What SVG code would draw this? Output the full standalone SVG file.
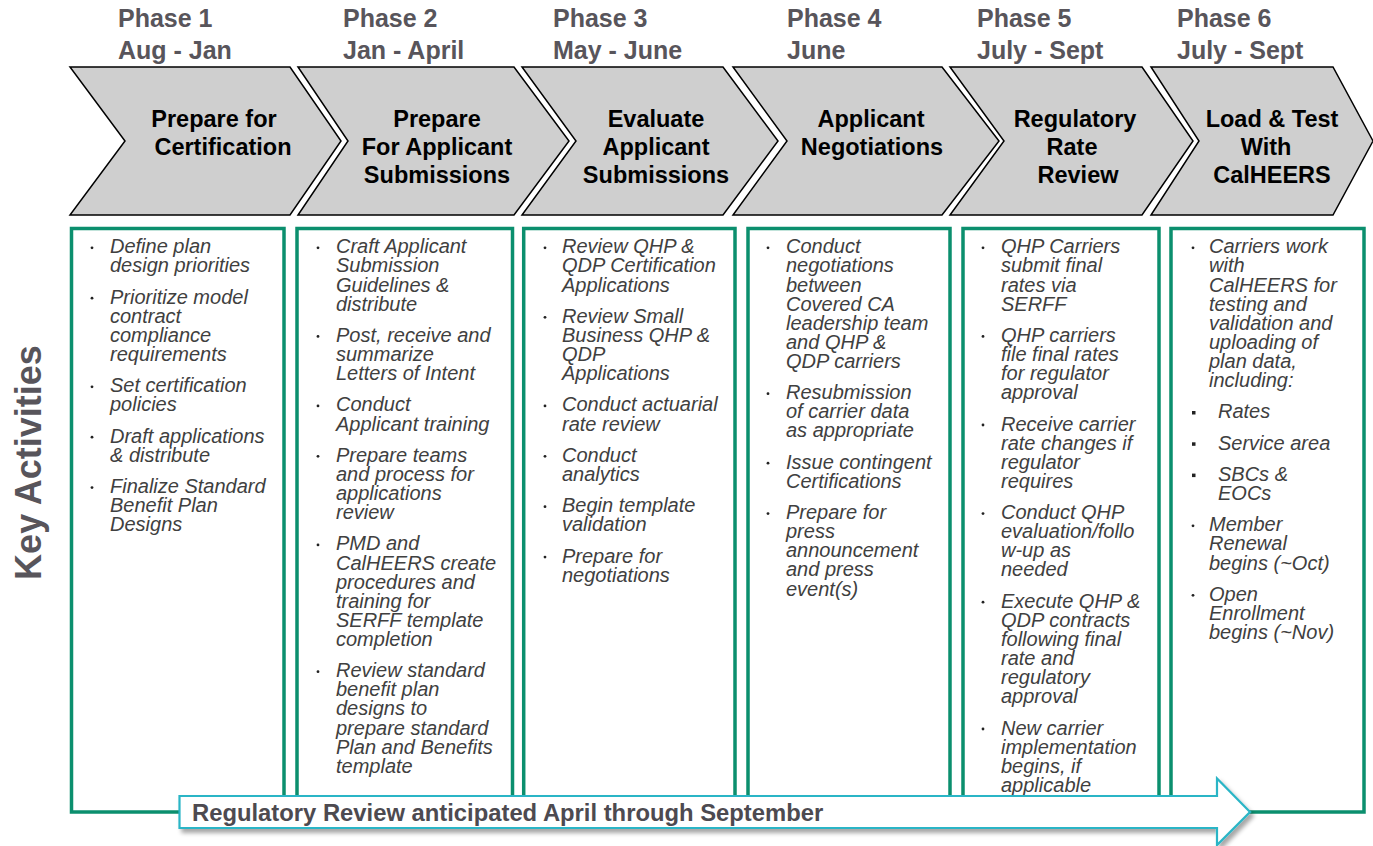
<svg xmlns="http://www.w3.org/2000/svg" width="1373" height="846" viewBox="0 0 1373 846">
<defs>
<style>
.phase{font-family:"Liberation Sans",Arial,sans-serif;font-weight:bold;font-size:25px;fill:#58555b}
.chev{fill:#cfcfcf;stroke:#000;stroke-width:1.5;stroke-linejoin:miter}
.ctext{font-family:"Liberation Sans",Arial,sans-serif;font-weight:bold;font-size:23.5px;fill:#000;text-anchor:middle}
.box{fill:#fff;stroke:#0b8f6e;stroke-width:3.5}
.item{font-family:"Liberation Sans",Arial,sans-serif;font-style:italic;font-size:20px;fill:#404040}
.dot{fill:#222}
.sq{fill:#222}
.side{font-family:"Liberation Sans",Arial,sans-serif;font-weight:bold;font-size:36px;fill:#58555b;text-anchor:middle}
.arrowtxt{font-family:"Liberation Sans",Arial,sans-serif;font-weight:bold;font-size:23.8px;fill:#4d4a50}
</style>
<filter id="shadow" x="-5%" y="-50%" width="110%" height="200%">
<feDropShadow dx="3" dy="4" stdDeviation="2" flood-color="#000" flood-opacity="0.35"/>
</filter>
</defs>
<rect width="1373" height="846" fill="#fff"/>

<g id="side-label">
<text class="side" transform="translate(41,462.5) rotate(-90)">Key Activities</text>
</g>

<g id="phase-1">
<text class="phase" x="118" y="27">Phase 1</text>
<text class="phase" x="118" y="59">Aug - Jan</text>
<polygon class="chev" points="70,67 290,67 341,141 290,215 70,215 125,141"/>
<text class="ctext" x="214" y="127">Prepare for</text>
<text class="ctext" x="223" y="155">Certification</text>
<rect class="box" x="71.5" y="228.5" width="212.5" height="583.5"/>
<g class="item">
<circle class="dot" cx="92" cy="247.8" r="1.4"/>
<text class="item" x="110" y="253.3"><tspan x="110">Define plan</tspan><tspan x="110" dy="19.1">design priorities</tspan></text>
<circle class="dot" cx="92" cy="298.2" r="1.4"/>
<text class="item" x="110" y="303.7"><tspan x="110">Prioritize model</tspan><tspan x="110" dy="19.1">contract</tspan><tspan x="110" dy="19.1">compliance</tspan><tspan x="110" dy="19.1">requirements</tspan></text>
<circle class="dot" cx="92" cy="386.8" r="1.4"/>
<text class="item" x="110" y="392.3"><tspan x="110">Set certification</tspan><tspan x="110" dy="19.1">policies</tspan></text>
<circle class="dot" cx="92" cy="437.2" r="1.4"/>
<text class="item" x="110" y="442.7"><tspan x="110">Draft applications</tspan><tspan x="110" dy="19.1">&amp; distribute</tspan></text>
<circle class="dot" cx="92" cy="487.6" r="1.4"/>
<text class="item" x="110" y="493.1"><tspan x="110">Finalize Standard</tspan><tspan x="110" dy="19.1">Benefit Plan</tspan><tspan x="110" dy="19.1">Designs</tspan></text>
</g>
</g>

<g id="phase-2">
<text class="phase" x="343" y="27">Phase 2</text>
<text class="phase" x="343" y="59">Jan - April</text>
<polygon class="chev" points="298,67 514,67 569,141 514,215 298,215 348,141"/>
<text class="ctext" x="437" y="127">Prepare</text>
<text class="ctext" x="437" y="155">For Applicant</text>
<text class="ctext" x="437" y="183">Submissions</text>
<rect class="box" x="297" y="228.5" width="215.5" height="583.5"/>
<circle class="dot" cx="318" cy="247.8" r="1.4"/>
<text class="item" x="336" y="253.3"><tspan x="336">Craft Applicant</tspan><tspan x="336" dy="19.1">Submission</tspan><tspan x="336" dy="19.1">Guidelines &amp;</tspan><tspan x="336" dy="19.1">distribute</tspan></text>
<circle class="dot" cx="318" cy="336.4" r="1.4"/>
<text class="item" x="336" y="341.9"><tspan x="336">Post, receive and</tspan><tspan x="336" dy="19.1">summarize</tspan><tspan x="336" dy="19.1">Letters of Intent</tspan></text>
<circle class="dot" cx="318" cy="405.9" r="1.4"/>
<text class="item" x="336" y="411.4"><tspan x="336">Conduct</tspan><tspan x="336" dy="19.1">Applicant training</tspan></text>
<circle class="dot" cx="318" cy="456.3" r="1.4"/>
<text class="item" x="336" y="461.8"><tspan x="336">Prepare teams</tspan><tspan x="336" dy="19.1">and process for</tspan><tspan x="336" dy="19.1">applications</tspan><tspan x="336" dy="19.1">review</tspan></text>
<circle class="dot" cx="318" cy="544.9" r="1.4"/>
<text class="item" x="336" y="550.4"><tspan x="336">PMD and</tspan><tspan x="336" dy="19.1">CalHEERS create</tspan><tspan x="336" dy="19.1">procedures and</tspan><tspan x="336" dy="19.1">training for</tspan><tspan x="336" dy="19.1">SERFF template</tspan><tspan x="336" dy="19.1">completion</tspan></text>
<circle class="dot" cx="318" cy="671.7" r="1.4"/>
<text class="item" x="336" y="677.2"><tspan x="336">Review standard</tspan><tspan x="336" dy="19.1">benefit plan</tspan><tspan x="336" dy="19.1">designs to</tspan><tspan x="336" dy="19.1">prepare standard</tspan><tspan x="336" dy="19.1">Plan and Benefits</tspan><tspan x="336" dy="19.1">template</tspan></text>
</g>

<g id="phase-3">
<text class="phase" x="553" y="27">Phase 3</text>
<text class="phase" x="553" y="59">May - June</text>
<polygon class="chev" points="522,67 723,67 778,141 723,215 522,215 576,141"/>
<text class="ctext" x="656" y="127">Evaluate</text>
<text class="ctext" x="656" y="155">Applicant</text>
<text class="ctext" x="656" y="183">Submissions</text>
<rect class="box" x="523.7" y="228.5" width="211.3" height="583.5"/>
<circle class="dot" cx="545" cy="247.8" r="1.4"/>
<text class="item" x="562" y="253.3"><tspan x="562">Review QHP &amp;</tspan><tspan x="562" dy="19.1">QDP Certification</tspan><tspan x="562" dy="19.1">Applications</tspan></text>
<circle class="dot" cx="545" cy="317.3" r="1.4"/>
<text class="item" x="562" y="322.8"><tspan x="562">Review Small</tspan><tspan x="562" dy="19.1">Business QHP &amp;</tspan><tspan x="562" dy="19.1">QDP</tspan><tspan x="562" dy="19.1">Applications</tspan></text>
<circle class="dot" cx="545" cy="405.9" r="1.4"/>
<text class="item" x="562" y="411.4"><tspan x="562">Conduct actuarial</tspan><tspan x="562" dy="19.1">rate review</tspan></text>
<circle class="dot" cx="545" cy="456.3" r="1.4"/>
<text class="item" x="562" y="461.8"><tspan x="562">Conduct</tspan><tspan x="562" dy="19.1">analytics</tspan></text>
<circle class="dot" cx="545" cy="506.7" r="1.4"/>
<text class="item" x="562" y="512.2"><tspan x="562">Begin template</tspan><tspan x="562" dy="19.1">validation</tspan></text>
<circle class="dot" cx="545" cy="557.1" r="1.4"/>
<text class="item" x="562" y="562.6"><tspan x="562">Prepare for</tspan><tspan x="562" dy="19.1">negotiations</tspan></text>
</g>

<g id="phase-4">
<text class="phase" x="787" y="27">Phase 4</text>
<text class="phase" x="787" y="59">June</text>
<polygon class="chev" points="733,67 942,67 999,141 942,215 733,215 787,141"/>
<text class="ctext" x="871" y="127">Applicant</text>
<text class="ctext" x="872" y="155">Negotiations</text>
<rect class="box" x="748" y="228.5" width="202" height="583.5"/>
<circle class="dot" cx="768" cy="247.8" r="1.4"/>
<text class="item" x="786" y="253.3"><tspan x="786">Conduct</tspan><tspan x="786" dy="19.1">negotiations</tspan><tspan x="786" dy="19.1">between</tspan><tspan x="786" dy="19.1">Covered CA</tspan><tspan x="786" dy="19.1">leadership team</tspan><tspan x="786" dy="19.1">and QHP &amp;</tspan><tspan x="786" dy="19.1">QDP carriers</tspan></text>
<circle class="dot" cx="768" cy="393.7" r="1.4"/>
<text class="item" x="786" y="399.2"><tspan x="786">Resubmission</tspan><tspan x="786" dy="19.1">of carrier data</tspan><tspan x="786" dy="19.1">as appropriate</tspan></text>
<circle class="dot" cx="768" cy="463.2" r="1.4"/>
<text class="item" x="786" y="468.7"><tspan x="786">Issue contingent</tspan><tspan x="786" dy="19.1">Certifications</tspan></text>
<circle class="dot" cx="768" cy="513.6" r="1.4"/>
<text class="item" x="786" y="519.1"><tspan x="786">Prepare for</tspan><tspan x="786" dy="19.1">press</tspan><tspan x="786" dy="19.1">announcement</tspan><tspan x="786" dy="19.1">and press</tspan><tspan x="786" dy="19.1">event(s)</tspan></text>
</g>

<g id="phase-5">
<text class="phase" x="977" y="27">Phase 5</text>
<text class="phase" x="977" y="59">July - Sept</text>
<polygon class="chev" points="950,67 1142,67 1193,141 1142,215 950,215 1004,141"/>
<text class="ctext" x="1075" y="127">Regulatory</text>
<text class="ctext" x="1072" y="155">Rate</text>
<text class="ctext" x="1078" y="183">Review</text>
<rect class="box" x="963" y="228.5" width="196" height="583.5"/>
<circle class="dot" cx="983" cy="247.8" r="1.4"/>
<text class="item" x="1001" y="253.3"><tspan x="1001">QHP Carriers</tspan><tspan x="1001" dy="19.1">submit final</tspan><tspan x="1001" dy="19.1">rates via</tspan><tspan x="1001" dy="19.1">SERFF</tspan></text>
<circle class="dot" cx="983" cy="336.4" r="1.4"/>
<text class="item" x="1001" y="341.9"><tspan x="1001">QHP carriers</tspan><tspan x="1001" dy="19.1">file final rates</tspan><tspan x="1001" dy="19.1">for regulator</tspan><tspan x="1001" dy="19.1">approval</tspan></text>
<circle class="dot" cx="983" cy="425" r="1.4"/>
<text class="item" x="1001" y="430.5"><tspan x="1001">Receive carrier</tspan><tspan x="1001" dy="19.1">rate changes if</tspan><tspan x="1001" dy="19.1">regulator</tspan><tspan x="1001" dy="19.1">requires</tspan></text>
<circle class="dot" cx="983" cy="513.6" r="1.4"/>
<text class="item" x="1001" y="519.1"><tspan x="1001">Conduct QHP</tspan><tspan x="1001" dy="19.1">evaluation/follo</tspan><tspan x="1001" dy="19.1">w-up as</tspan><tspan x="1001" dy="19.1">needed</tspan></text>
<circle class="dot" cx="983" cy="602.2" r="1.4"/>
<text class="item" x="1001" y="607.7"><tspan x="1001">Execute QHP &amp;</tspan><tspan x="1001" dy="19.1">QDP contracts</tspan><tspan x="1001" dy="19.1">following final</tspan><tspan x="1001" dy="19.1">rate and</tspan><tspan x="1001" dy="19.1">regulatory</tspan><tspan x="1001" dy="19.1">approval</tspan></text>
<circle class="dot" cx="983" cy="729" r="1.4"/>
<text class="item" x="1001" y="734.5"><tspan x="1001">New carrier</tspan><tspan x="1001" dy="19.1">implementation</tspan><tspan x="1001" dy="19.1">begins, if</tspan><tspan x="1001" dy="19.1">applicable</tspan></text>
</g>

<g id="phase-6">
<text class="phase" x="1177" y="27">Phase 6</text>
<text class="phase" x="1177" y="59">July - Sept</text>
<polygon class="chev" points="1151,67 1333,67 1373,141 1333,215 1151,215 1199,141"/>
<text class="ctext" x="1272" y="127">Load &amp; Test</text>
<text class="ctext" x="1266" y="155">With</text>
<text class="ctext" x="1272" y="183">CalHEERS</text>
<rect class="box" x="1171" y="228.5" width="193" height="583.5"/>
<circle class="dot" cx="1193" cy="247.8" r="1.4"/>
<text class="item" x="1209" y="253.3"><tspan x="1209">Carriers work</tspan><tspan x="1209" dy="19.1">with</tspan><tspan x="1209" dy="19.1">CalHEERS for</tspan><tspan x="1209" dy="19.1">testing and</tspan><tspan x="1209" dy="19.1">validation and</tspan><tspan x="1209" dy="19.1">uploading of</tspan><tspan x="1209" dy="19.1">plan data,</tspan><tspan x="1209" dy="19.1">including:</tspan></text>
<rect class="sq" x="1192" y="411" width="3.5" height="3.5"/>
<text class="item" x="1218" y="418.3">Rates</text>
<rect class="sq" x="1192" y="442.3" width="3.5" height="3.5"/>
<text class="item" x="1218" y="449.6">Service area</text>
<rect class="sq" x="1192" y="473.6" width="3.5" height="3.5"/>
<text class="item" x="1218" y="480.9"><tspan x="1218">SBCs &amp;</tspan><tspan x="1218" dy="19.1">EOCs</tspan></text>
<circle class="dot" cx="1193" cy="525.8" r="1.4"/>
<text class="item" x="1209" y="531.3"><tspan x="1209">Member</tspan><tspan x="1209" dy="19.1">Renewal</tspan><tspan x="1209" dy="19.1">begins (~Oct)</tspan></text>
<circle class="dot" cx="1193" cy="595.3" r="1.4"/>
<text class="item" x="1209" y="600.8"><tspan x="1209">Open</tspan><tspan x="1209" dy="19.1">Enrollment</tspan><tspan x="1209" dy="19.1">begins (~Nov)</tspan></text>
</g>

<g id="connectors">
<g id="regulatory-review-arrow">
<polygon points="179.5,796 1217,796 1217,778.5 1250,812 1217,845 1217,828 179.5,828" fill="#fff" stroke="#2ab5c6" stroke-width="2.2" filter="url(#shadow)"/>
<text class="arrowtxt" x="192" y="821">Regulatory Review anticipated April through September</text>
</g>
</g>
</svg>
